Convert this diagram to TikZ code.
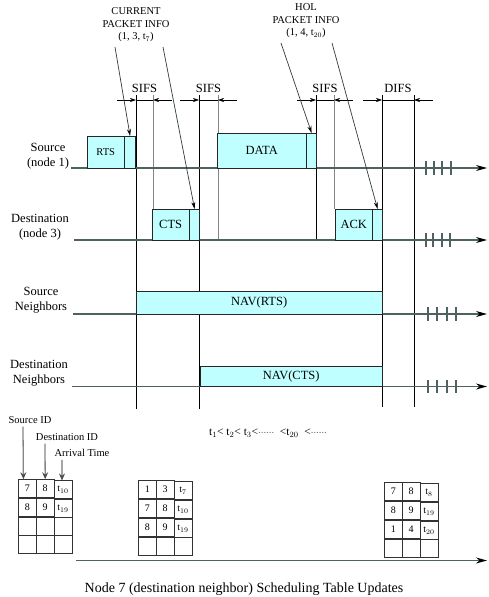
\documentclass[tikz,border=0pt]{standalone}
\usepackage{fontspec}
\setmainfont{Liberation Serif}
\usetikzlibrary{arrows.meta,positioning,calc,matrix}
\definecolor{navcyan}{HTML}{C0FFFF}
\definecolor{axisgray}{HTML}{4E6262}
\definecolor{slotgray}{HTML}{858585}
\definecolor{infogray}{HTML}{2F3B3B}

\begin{document}
\begin{tikzpicture}[
    x=1pt, y=-1pt,
    font=\fontsize{12.5}{15}\selectfont,
    pktbox/.style={draw=black!85,fill=navcyan,inner sep=0pt,anchor=north west},
    timeaxis/.style={draw=axisgray,line width=1.2pt,-{Stealth[length=11pt,width=6pt,color=black]}},
    axistick/.style={draw=axisgray,line width=1.1pt},
    slotline/.style={draw=black,line width=0.8pt},
    slotgap/.style={draw=slotgray,line width=0.9pt},
    gaparrow/.style={draw=black,line width=0.6pt,-{Stealth[length=6pt,width=4pt]}},
    infoarrow/.style={draw=infogray,line width=0.7pt,-{Stealth[length=7pt,width=4pt,color=black]}},
    rowlabel/.style={align=center,inner sep=0pt},
    note/.style={align=center,inner sep=0pt,font=\fontsize{10.5}{12.5}\selectfont},
    idarrow/.style={draw=slotgray,line width=1.3pt,-{Stealth[length=7pt,width=6pt,inset=2.5pt,color=black!70]}},
    cell/.style={draw=black!80,minimum width=18pt,minimum height=18pt,inner sep=0pt,font=\fontsize{10}{12}\selectfont},
    schedtable/.style={matrix of nodes,nodes in empty cells,nodes={cell},column sep=-0.6pt,row sep=-0.6pt,anchor=north west,inner sep=0pt}
  ]
  \useasboundingbox (0,0) rectangle (488,597);

  % slot boundaries
  \foreach \vx/\vy in {136/409,199/409,316/240,382/407,414/407}
    \draw[slotline] (\vx,95) -- (\vx,\vy);
  \foreach \vx/\vy in {153/209,218/240,334/209}
    \draw[slotgap] (\vx,95) -- (\vx,\vy);

  % interframe spaces
  \foreach \la/\lb/\gapname in {136/153/SIFS,199/218/SIFS,316/334/SIFS,382/414/DIFS} {
    \draw[gaparrow] (\la-19,100) -- (\la,100);
    \draw[gaparrow] (\lb+19,100) -- (\lb,100);
    \draw[line width=0.6pt] (\la,100) -- (\lb,100);
    \node[inner sep=0pt] (gap\la) at ({(\la+\lb)/2},88) {\gapname};
  }

  % time axes
  \draw[timeaxis] (71,168) -- (487,168);
  \draw[timeaxis] (74,240) -- (487,240);
  \draw[timeaxis] (73,314) -- (487,314);
  \draw[timeaxis] (72,386.5) -- (487,386.5);
  \foreach \tx in {426,434,442,451} \draw[axistick] (\tx,161) -- (\tx,175);
  \foreach \tx in {426,433,442,450} \draw[axistick] (\tx,233) -- (\tx,247);
  \foreach \tx in {428,437,447,456} \draw[axistick] (\tx,307) -- (\tx,321);
  \foreach \tx in {428,437,447,456} \draw[axistick] (\tx,380) -- (\tx,393);

  % row labels
  \node[rowlabel] (srclabel) at (48,156) {Source\\(node 1)};
  \node[rowlabel] (dstlabel) at (40,227) {Destination\\(node 3)};
  \node[rowlabel] (srcnbr) at (41,300) {Source\\Neighbors};
  \node[rowlabel] (dstnbr) at (39,373) {Destination\\Neighbors};

  % frames
  \node[pktbox,minimum width=37pt,minimum height=32pt] (rts) at (87,136) {\fontsize{10.5}{12}\selectfont RTS};
  \node[pktbox,minimum width=11pt,minimum height=32pt] (rtshdr) at (rts.north east) {};
  \node[pktbox,minimum width=89pt,minimum height=35pt] (data) at (217,133) {DATA};
  \node[pktbox,minimum width=10pt,minimum height=35pt] (datahdr) at (data.north east) {};
  \node[pktbox,minimum width=37pt,minimum height=31pt] (cts) at (152,209) {CTS};
  \node[pktbox,minimum width=10pt,minimum height=31pt] (ctshdr) at (cts.north east) {};
  \node[pktbox,minimum width=37pt,minimum height=31pt] (ack) at (335,209) {ACK};
  \node[pktbox,minimum width=10pt,minimum height=31pt] (ackhdr) at (ack.north east) {};
  \node[pktbox,minimum width=246pt,minimum height=23pt] (navrts) at (136,291) {NAV(RTS)};
  \node[pktbox,minimum width=182pt,minimum height=20pt] (navcts) at (200,366) {NAV(CTS)};

  % piggybacked packet info
  \node[note] (curinfo) at (136,25) {CURRENT\\PACKET INFO\\(1, 3, t$_{7}$)};
  \node[note] (holinfo) at (306,21) {HOL\\PACKET INFO\\(1, 4, t$_{20}$)};
  \coordinate (cura) at (115,47);
  \coordinate (curb) at (163,47);
  \coordinate (hola) at (281,43);
  \coordinate (holb) at (332,43);
  \draw[infoarrow] (cura) -- (rtshdr.north);
  \draw[infoarrow] (curb) -- (ctshdr.north);
  \draw[infoarrow] (hola) -- (datahdr.north);
  \draw[infoarrow] (holb) -- (ackhdr.north);

  % scheduling tables
  \node[note,font=\fontsize{11.5}{13}\selectfont] (order) at (268,433) {t$_{1}$< t$_{2}$< t$_{3}$<{\fontsize{8}{9}\selectfont ······}\ \ <t$_{20}$\ \ <{\fontsize{8}{9}\selectfont ······}};
  \node[note] (srcid) at (30,420) {Source ID};
  \node[note] (dstid) at (67,437) {Destination ID};
  \node[note] (arrtime) at (82,453) {Arrival Time};
  \matrix[schedtable] (tabA) at (18,479) {
    7 & 8 & t$_{10}$ \\
    8 & 9 & t$_{19}$ \\
      &   &          \\
      &   &          \\
  };
  \matrix[schedtable] (tabB) at (138,480) {
    1 & 3 & t$_{7}$  \\
    7 & 8 & t$_{10}$ \\
    8 & 9 & t$_{19}$ \\
      &   &          \\
  };
  \matrix[schedtable] (tabC) at (384,482) {
    7 & 8 & t$_{8}$  \\
    8 & 9 & t$_{19}$ \\
    1 & 4 & t$_{20}$ \\
      &   &          \\
  };
  \draw[idarrow] ([xshift=-7pt,yshift=-3pt]srcid.south) -- ([xshift=-4pt]tabA-1-1.north);
  \draw[idarrow] ([xshift=-22pt,yshift=-3pt]dstid.south) -- (tabA-1-2.north);
  \draw[idarrow,draw=black,line width=0.9pt] ([xshift=-20pt,yshift=-3pt]arrtime.south) -- ([xshift=-1pt]tabA-1-3.north);
  \draw[timeaxis] (76,560.5) -- (487,560.5);

  \node[font=\fontsize{14}{16}\selectfont] (caption) at (244,589) {Node 7 (destination neighbor) Scheduling Table Updates};
\end{tikzpicture}
\end{document}
